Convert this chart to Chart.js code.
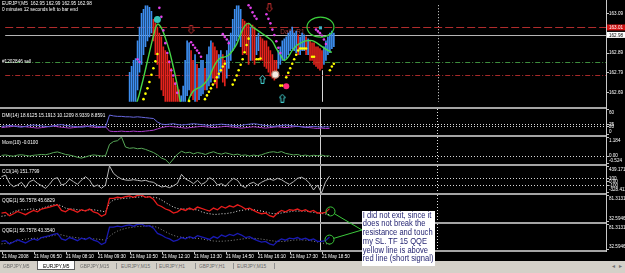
<!DOCTYPE html>
<html><head><meta charset="utf-8"><title>EURJPY,M5</title>
<script src="https://cdn.jsdelivr.net/npm/chart.js@4.4.1/dist/chart.umd.min.js"></script>
<style>
*{box-sizing:border-box}
html,body{margin:0;padding:0;background:#000;}
body{width:625px;height:273px;overflow:hidden;position:relative;font-family:"Liberation Sans",Arial,sans-serif;}
canvas{position:absolute;left:0;display:block;}
.sep{position:absolute;left:0;width:606px;height:2px;background:#a4a4a4;z-index:2;}
.lbl{position:absolute;left:2px;color:#fff;font-size:6.2px;line-height:7px;height:7px;white-space:nowrap;transform-origin:0 50%;transform:scaleX(0.76);z-index:3;}
#axisline{position:absolute;left:606px;top:0;width:1px;height:252px;background:#c8c8c8;z-index:2;}
#tabs{position:absolute;left:0;top:261px;width:625px;height:12px;background:#d4d0c8;z-index:3;}
.tab{position:absolute;top:1px;height:8px;font-size:6.2px;line-height:8px;color:#6a6a6a;white-space:nowrap;transform-origin:0 50%;transform:scaleX(0.78);}
.tab.act{color:#000;}
#acttab{position:absolute;left:37px;top:0;width:38px;height:9px;background:#fff;border:1px solid #606060;border-top:none;}
.tsep{position:absolute;top:2px;width:1px;height:6px;background:#909090;}
.arr{position:absolute;top:1px;font-size:6px;line-height:8px;color:#707070;}
#note{position:absolute;left:362px;top:210.5px;width:72.5px;height:55px;background:#fff;z-index:6;overflow:hidden;}
#note div{font-size:9px;line-height:8.8px;height:8.8px;color:#1e1e6e;white-space:nowrap;transform-origin:0 0;transform:scaleX(0.84);padding-left:1px;}
#ov{z-index:5;top:0;}
</style></head><body>

<div class="lbl" style="top:-0.8px">EURJPY,M5&nbsp; 162.95 162.99 162.95 162.98</div>
<div class="lbl" style="top:4.5px">0 minutes 12 seconds left to bar end</div>
<div class="lbl" style="top:56.5px">#1202846 sell</div>
<div class="lbl" style="top:110.5px">DMI(14) 18.6125 15.1913 10.1209 8.9339 8.8591</div>
<div class="lbl" style="top:138px">Mom(10) -0.0100</div>
<div class="lbl" style="top:166.5px">CCI(14) 151.7799</div>
<div class="lbl" style="top:195.5px">QQE(1) 56.7578 45.6829</div>
<div class="lbl" style="top:225.5px">QQE(1) 56.7578 43.3540</div>

<div class="sep" style="top:107px"></div>
<div class="sep" style="top:135px"></div>
<div class="sep" style="top:164px"></div>
<div class="sep" style="top:193px"></div>
<div class="sep" style="top:222px"></div>
<div class="sep" style="top:250px"></div>
<div id="axisline"></div>

<div id="tabs">
  <div id="acttab"></div>
  <div class="tab" style="left:3px">GBPJPY,M5</div>
  <div class="tab act" style="left:43px">EURJPY,M5</div>
  <div class="tab" style="left:80px">GBPJPY,M15</div>
  <div class="tab" style="left:121px">EURJPY,M15</div>
  <div class="tab" style="left:159px">EURJPY,H1</div>
  <div class="tab" style="left:199px">GBPJPY,H1</div>
  <div class="tab" style="left:237px">EURJPY,M15</div>
  <div class="tsep" style="left:116px"></div>
  <div class="tsep" style="left:156px"></div>
  <div class="tsep" style="left:195px"></div>
  <div class="tsep" style="left:233px"></div>
  <div class="tsep" style="left:274px"></div>
  <div class="arr" style="left:612px">&#9666;</div>
  <div class="arr" style="left:619px">&#9656;</div>
</div>

<div id="note">
  <div>I did not exit, since it</div>
  <div>does not break the</div>
  <div>resistance and touch</div>
  <div>my SL. TF 15 QQE</div>
  <div>yellow line is above</div>
  <div>red line (short signal)</div>
</div>

<script>
// ---------------- DATA ----------------
// main price bars (bar index 62..165), M5 bars
const barStart = 62;
const barHigh = [162.79,162.82,162.85,162.86,162.95,163.02,163.09,163.11,163.13,163.13,163.12,163.10,
 163.06,163.04,163.02,162.99,162.97,162.92,162.90,162.88,162.85,162.81,162.76,162.74,162.72,162.70,
 162.67,162.72,162.85,162.95,162.94,
 162.90,162.85,162.88,162.83,162.81,162.85,162.85,162.81,162.88,162.92,162.95,162.94,162.92,162.90,162.88,162.90,162.88,162.85,162.90,162.95,162.99,163.06,163.11,163.13,163.13,163.11,
 163.06,163.05,163.04,163.04,163.02,163.03,163.02,162.97,162.99,162.97,162.96,162.95,162.95,162.92,162.90,162.88,162.85,162.85,
 162.90,162.92,162.95,162.96,162.97,162.99,163.00,163.02,162.99,163.00,162.98,162.97,162.99,162.98,162.97,162.96,
 162.95,162.94,162.94,162.92,162.92,162.91,162.90,162.92,162.95,162.97,162.99,163.00,162.99];
const barLow = [162.62,162.62,162.62,162.62,162.70,162.79,162.83,162.88,162.92,162.95,162.97,162.99,
 162.95,162.88,162.83,162.76,162.70,162.67,162.63,162.62,162.62,162.62,162.62,162.62,162.62,162.62,
 162.62,162.62,162.62,162.67,162.70,
 162.67,162.65,162.64,162.64,162.65,162.67,162.68,162.70,162.70,162.72,162.74,162.76,162.73,162.71,162.76,162.79,162.74,162.72,162.76,162.81,162.85,162.90,162.92,162.95,162.97,162.92,
 162.88,162.90,162.88,162.83,162.85,162.85,162.83,162.88,162.90,162.85,162.85,162.82,162.81,162.79,162.77,162.76,162.75,162.76,
 162.81,162.83,162.85,162.85,162.86,162.88,162.90,162.91,162.90,162.89,162.88,162.88,162.90,162.90,162.88,162.88,
 162.85,162.85,162.83,162.82,162.81,162.80,162.81,162.83,162.85,162.88,162.89,162.91,162.92];
const barDir = ('uuuuuuuuuuuu'+'dddddddddddddd'+'uuuuu'+'dduduuuduuuddduudduuuuuuuu'+
 'dddd'+'u'+'dd'+'uu'+'ddddddddd'+'uuuuuuuuuu'+'d'+'uuu'+'d'+'u'+'ddddddd'+'uuuuuu').split('');

// green moving average (every 2 bars from index 64)
const maStart = 64, maStep = 2;
const maVal = [162.601,162.647,162.721,162.804,162.891,162.974,163.034,163.016,162.965,162.901,162.818,162.726,
 162.624,162.587,162.656,162.693,162.707,162.716,162.735,162.762,162.808,162.845,162.864,162.868,162.878,162.901,
 162.933,162.984,163.025,163.039,163.020,163.007,162.993,162.979,162.965,162.947,162.910,162.878,162.850,162.868,
 162.901,162.924,162.937,162.947,162.951,162.951,162.942,162.928,162.914,162.901,162.891];

// yellow dots (below price)
const yellowIdx = [69,70,71,72,73,74,75,76, 92,100,101,102,103,104,105,106,107,108,109,110,
 114,115,116,117,118,119,120,121,122, 126,127,128, 138,139,141,142,143,144,145,146,147,148,149,150,151,
 154,155, 163,164,165];
const yellowVal = [162.653,162.681,162.708,162.740,162.777,162.810,162.846,162.883,
 162.644,162.653,162.672,162.690,162.708,162.727,162.745,162.764,162.782,162.800,162.819,162.833,
 162.727,162.750,162.773,162.800,162.828,162.856,162.892,162.929,162.961,
 162.856,162.856,162.860,
 162.722,162.722,162.764,162.787,162.810,162.833,162.856,162.879,162.901,162.911,162.911,162.911,162.911,
 162.869,162.869, 162.800,162.819,162.833];
// magenta dots (above price)
const magIdx = [66,67, 77,78,79,80,81,82,83,84,85,86, 93,94,95,96,97,98, 109,110,111,112,
 122,123,124,125,126, 131,132,133,134,135,136,137,138, 156,157,158,159,160,161];
const magVal = [162.856,162.842, 163.118,163.072,163.003,162.938,162.888,162.842,162.800,162.773,162.731,162.685,
 162.943,162.929,162.915,162.901,162.888,162.869, 162.984,162.970,162.957,162.938,
 163.131,163.118,163.095,163.076,163.062, 163.085,163.062,163.039,163.007,162.980,162.948,162.915,162.888,
 163.007,162.998,162.989,162.975,162.957,162.934];

// signal markers
const upArrowIdx = [129, 139], upArrowVal = [162.754, 162.658];
const downArrowIdx = [93, 132.5], downArrowVal = [163.007, 163.118];
const cyanCircle = [76, 163.058];
const exitCircle = [135.5, 162.778];
const pinkCircle = [141, 162.718];
const cyanSquare = [158.25, 163.016];
const ellipseAt = [158.25, 163.02];

// horizontal price levels: Daily R1, bid, order open, stop
const mainLevels = [163.018, 162.98, 162.842, 162.774];
const mainRange = [162.6394, 163.1314];
const mainTicks = [163.09, 162.89, 162.79, 162.69];
const boxLabels = ['163.01', '162.98'];
const tradeBar = 159, tradeLinePrice = 162.80, futureSep = 217.5;

// indicator windows (every 2 bars from 0)
const subStart = 0, subStep = 2;
const dmiPlus = [20,21,22,21,19,18,20,22,23,22,21,20,19,21,23,24,22,21,20,19,18,19,21,22,20,19,18,
 46,44,43,43,42,42,41,42,41,40,39,38,
 30,25,24,25,26,24,23,24,25,26,25,24,23,22,23,24,
 25,24,23,22,21,22,24,25,26,25,23,22,21,20,
 21,22,23,22,21,20,19,18,19,20,19,18,19,18.6];
const dmiMinus = [17,18,19,20,21,20,19,18,17,16,17,18,20,21,19,18,17,16,17,18,20,21,19,18,17,18,19,
 9,8,8,9,8,8,9,8,8,9,10,11,
 14,17,19,20,19,18,17,16,17,18,19,20,19,18,17,18,
 19,20,19,18,17,16,17,18,19,18,17,16,17,18,
 19,18,17,18,19,20,19,18,17,16,15,16,15,15.2];
const dmiRange = [0, 60], dmiLevels = [25, 20], dmiTicks = [60, 25, 20, 0];

const mom = [0.02,0.05,0.00,-0.03,0.04,0.06,0.02,-0.02,0.03,0.05,0.08,0.06,0.12,0.20,0.24,0.16,0.08,0.04,-0.02,-0.10,-0.15,-0.08,0.00,0.05,0.02,-0.02,0.00,
 0.72,0.90,0.95,1.18,0.55,0.47,0.50,0.44,0.47,0.40,0.30,0.20,0.05,-0.15,-0.25,-0.50,-0.20,
 0.10,0.28,0.18,0.22,0.12,0.20,0.15,0.08,0.18,0.25,0.15,0.10,0.18,0.12,0.05,0.10,0.02,0.05,-0.02,0.04,
 0.00,0.06,0.15,0.22,0.25,0.20,0.26,0.15,0.10,0.05,0.08,0.00,0.04,-0.02,0.03,0.00,0.04,-0.02,-0.01];
const momRange = [-0.524, 1.184], momLevels = [0];
const momTicks = [1.184, 0, -0.524], momTickText = ['1.184', '0.00', '-0.524'];

const cci = [135,183,-53,-148,-101,-25,-176,-7,41,-53,-120,-195,-82,70,108,-101,-63,70,-7,-82,41,135,41,-148,-101,-195,-101,
 439,230,135,70,41,32,50,32,13,32,-7,-25,-101,-157,-138,-176,-120,-53,
 202,70,13,-63,32,-82,-25,108,41,-101,-63,-138,-7,89,32,-120,-176,-63,-25,-101,-25,32,70,32,89,50,-25,-82,-7,
 89,120,60,-50,-243,-100,-328,-20,151.78];
const cciRange = [-328.412, 439.1711], cciLevels = [100, -100];
const cciTicks = [439.1711, 100, 0, -100, -328.412], cciTickText = ['439.1711','100','0.00','-100','-328.412'];

const qqeMain = [48.8,50,44,47.5,51.7,48.8,45.8,50,53.5,51,56,57.7,59.5,61.8,63.6,53.5,51,56,53.5,50,54.7,52.3,56,51,48.8,42.9,46.4,
 75.4,75.4,77.2,76,78.3,79.5,77.2,80.7,81.31,77.2,78.3,73.6,
 63.6,60.6,56,53.5,48.8,51,56,53.5,57.7,54.7,59.5,57,54.7,52.3,57.7,54.7,60.6,57.7,61.8,59.5,63.6,60.6,
 56,57.7,53.5,50,47.5,48.8,44,41.7,48.8,53.5,51,54.7,53.5,56,52.3,54.7,51,53.5,48.8,48.8,50,56.76];
const qqeSlow1 = [42.9,44,47.5,51, 53.5,54.7,54.7,56,56,54.7, 57,59.5,61.8,63.6,64.2, 61.8,57.7,56,56,54.7,53.5,
 53.5,54.7,54.7,53.5,52.3,51, 66.6,72.4,73.6,74.8,75.4,76,77.2,77.2,78.3,78.3,77.2,77.2,
 76,72.4,67.8,63.6,59.5,57, 56,56,56,54.7,54.7, 51,48.8,47.5,46.4,46.4,47.5,47.5,48.8,50,
 52.3,53.5,54.7,54.7,54.7,53.5,52.3,51, 48.8,47.5,47.5,48.8,50,51,52.3,52.3, 52.3,52.3,51,50,49,48,47,45.68];
const qqeSlow2 = [44,45,46,48, 50,52,53,54,54.5,54.5, 55,56.5,58,60,61.5, 61,59,57.5,56.5,55.5,54.5,
 54,54,53.5,53,52,51, 58,64,68,71,73,74.5,75.5,76.5,77,77.5,77.5,77,
 75,71,67,63,60,57.5, 56.5,56,55.5,55,54.5, 53.5,52,50.5,49.5,49,49,49.5,50,51,
 52,53,54,54.5,54.5,54,53,52, 50.5,49.5,48.5,48.5,49,50,51,51.5, 51.5,51,50.5,49,47.5,46,44.5,43.35];
const qqeRange = [32.5946, 81.3131], qqeTicks = [81.3131, 32.5946];
const qqeMarkIdx = [164.5, 164], qqeMarkVal = [51.7, 52.1];

// time axis
const timeStep = 16;
const timeLabels = ['21 May 2008','21 May 06:50','21 May 08:10','21 May 09:30','21 May 10:50','21 May 12:10',
 '21 May 13:30','21 May 14:50','21 May 16:10','21 May 17:30','21 May 18:50'];

// ---------------- DRAWING ----------------
const X_MIN = -0.75, X_MAX = 302.25;
const BLUE = '#3d8ef0', RED = '#e4231d';
const FONT = '"Liberation Sans", Arial, sans-serif';

function txt(ctx, s, x, y, color, size, sx) {
  ctx.save(); ctx.translate(x, y); ctx.scale(sx, 1);
  ctx.font = size + 'px ' + FONT; ctx.fillStyle = color;
  ctx.textBaseline = 'middle'; ctx.textAlign = 'left';
  ctx.fillText(s, 0, 0); ctx.restore();
}
function hline(ctx, y, x0, x1, color, dash) {
  ctx.save(); ctx.strokeStyle = color; ctx.lineWidth = 1; ctx.setLineDash(dash);
  const yy = Math.round(y) + 0.5;
  ctx.beginPath(); ctx.moveTo(x0, yy); ctx.lineTo(x1, yy); ctx.stroke(); ctx.restore();
}
function vline(ctx, x, y0, y1, color, dash) {
  ctx.save(); ctx.strokeStyle = color; ctx.lineWidth = 1; ctx.setLineDash(dash);
  const xx = Math.round(x) + 0.5;
  ctx.beginPath(); ctx.moveTo(xx, y0); ctx.lineTo(xx, y1); ctx.stroke(); ctx.restore();
}
function axisLabels(chart, vals, texts) {
  const {ctx, chartArea: a, scales: {y}} = chart;
  vals.forEach((v, k) => {
    const py = y.getPixelForValue(v);
    ctx.fillStyle = '#c8c8c8';
    ctx.fillRect(607, Math.round(Math.min(Math.max(py, a.top), a.bottom - 1)), 2, 1);
    const ty = Math.min(Math.max(py, a.top + 3), a.bottom - 3.5);
    txt(ctx, texts[k], 609, ty, '#ffffff', 6.2, 0.74);
  });
}
const pts = (vals, start, step) => vals.map((v, k) => ({x: start + k * step, y: v}));
const pairs = (idx, vals) => idx.map((x, k) => ({x, y: vals[k]}));

function lineDs(data, color, width, dash, order) {
  return {type: 'line', data, borderColor: color, borderWidth: width, borderDash: dash || [],
    pointRadius: 0, tension: 0, fill: false, order: order || 3, clip: 0};
}
function dotDs(data, color, r, style, order, border) {
  return {type: 'line', data, showLine: false, pointRadius: r, pointStyle: style || 'circle',
    pointBackgroundColor: color, pointBorderColor: border || color, pointBorderWidth: border ? 1.2 : 0,
    order: order || 2, clip: false};
}
function arrowImg(color, up) {
  const c = document.createElement('canvas'); c.width = 7; c.height = 9;
  const g = c.getContext('2d'); g.strokeStyle = color; g.lineWidth = 1; g.beginPath();
  if (up) { g.moveTo(3.5,0.5); g.lineTo(6.5,4); g.lineTo(5,4); g.lineTo(5,8.5); g.lineTo(2,8.5); g.lineTo(2,4); g.lineTo(0.5,4); }
  else { g.moveTo(3.5,8.5); g.lineTo(6.5,5); g.lineTo(5,5); g.lineTo(5,0.5); g.lineTo(2,0.5); g.lineTo(2,5); g.lineTo(0.5,5); }
  g.closePath(); g.stroke(); return c;
}

function makeChart(top, height, padBottom, range, datasets, hooks, type) {
  const cv = document.createElement('canvas');
  cv.width = 625; cv.height = height; cv.style.top = top + 'px';
  document.body.appendChild(cv);
  return new Chart(cv, {
    type: type || 'line',
    data: {datasets},
    options: {
      responsive: false, maintainAspectRatio: false, animation: false, devicePixelRatio: 1, events: [],
      layout: {padding: {left: 0, right: 19, top: 0, bottom: padBottom || 0}},
      plugins: {legend: {display: false}, tooltip: {enabled: false}},
      scales: {
        x: {type: 'linear', min: X_MIN, max: X_MAX, display: false, offset: false},
        y: {type: 'linear', min: range[0], max: range[1], display: false}
      }
    },
    plugins: [Object.assign({id: 'decor' + top}, hooks)]
  });
}

function panelHooks(levels, ticks, tickText, extra) {
  return {
    beforeDatasetsDraw(chart) {
      const {ctx, chartArea: a, scales: {x, y}} = chart;
      levels.forEach(v => hline(ctx, y.getPixelForValue(v), a.left, a.right, '#d8d8d8', [1, 2]));
      vline(ctx, x.getPixelForValue(futureSep), a.top, a.bottom, '#e0e0e0', [1, 2]);
      vline(ctx, x.getPixelForValue(tradeBar), a.top, a.bottom, '#d0d0d0', []);
    },
    afterDraw(chart) {
      axisLabels(chart, ticks, tickText);
      if (extra) extra(chart);
    }
  };
}

// ---- main price window ----
const barData = barHigh.map((h, k) => ({x: barStart + k, y: [barLow[k], h]}));
const mainChart = makeChart(0, 107, 0, mainRange, [
  dotDs([{x: cyanCircle[0], y: cyanCircle[1]}], '#35c4b8', 3.5, 'circle', 1),
  dotDs(pairs(upArrowIdx, upArrowVal), '#40c8c8', 1, arrowImg('#40c8c8', true), 1),
  dotDs(pairs(downArrowIdx, downArrowVal), '#b02a2a', 1, arrowImg('#b02a2a', false), 1),
  dotDs([{x: exitCircle[0], y: exitCircle[1]}], '#f4ece4', 3.5, 'circle', 1, '#c09a86'),
  dotDs([{x: pinkCircle[0], y: pinkCircle[1]}], '#ff2a7a', 3, 'circle', 1),
  dotDs([{x: cyanSquare[0], y: cyanSquare[1]}], '#40b4c4', 2.2, 'rect', 1),
  dotDs(pairs(yellowIdx, yellowVal), '#ffff00', 1.3, 'circle', 2),
  dotDs(pairs(magIdx, magVal), '#e040e8', 1.3, 'circle', 2),
  Object.assign(lineDs(pts(maVal, maStart, maStep), '#46d646', 1.4, [], 4), {tension: 0.4}),
  {type: 'bar', data: barData, backgroundColor: barDir.map(d => d === 'u' ? BLUE : RED),
   borderWidth: 0, barThickness: 1, grouped: false, clip: 0, order: 10}
], {
  beforeDatasetsDraw(chart) {
    const {ctx, chartArea: a, scales: {x, y}} = chart;
    vline(ctx, x.getPixelForValue(futureSep), a.top, a.bottom, '#e0e0e0', [1, 2]);
    vline(ctx, x.getPixelForValue(tradeBar), y.getPixelForValue(tradeLinePrice), a.bottom, '#d8d8d8', []);
    const styles = [['#b02c2c', [8, 3]], ['#b4b4b4', []], ['#3e8e3e', [5, 2, 1, 2]], ['#a82a2a', [5, 2, 1, 2]]];
    mainLevels.forEach((v, k) => hline(ctx, y.getPixelForValue(v), a.left, a.right, styles[k][0], styles[k][1]));
    txt(ctx, 'Daily R1', x.getPixelForValue(138), y.getPixelForValue(mainLevels[0]) + 4.8, '#a83a3a', 8, 0.8);
  },
  afterDraw(chart) {
    const {ctx, scales: {x, y}} = chart;
    ctx.save(); ctx.strokeStyle = '#3cd03c'; ctx.lineWidth = 1.2;
    ctx.beginPath(); ctx.ellipse(x.getPixelForValue(ellipseAt[0]), y.getPixelForValue(ellipseAt[1]), 13.5, 10, 0, 0, Math.PI * 2);
    ctx.stroke(); ctx.restore();
    axisLabels(chart, mainTicks, mainTicks.map(v => v.toFixed(2)));
    const r = y.getPixelForValue(mainLevels[0]), w = y.getPixelForValue(mainLevels[1]);
    ctx.fillStyle = '#d01212'; ctx.fillRect(607, r - 3, 18, 6);
    txt(ctx, boxLabels[0], 609, r, '#ffffff', 6.2, 0.74);
    ctx.fillStyle = '#ffffff'; ctx.fillRect(607, w - 3, 18, 6);
    txt(ctx, boxLabels[1], 609, w, '#000000', 6.2, 0.74);
  }
}, 'bar');

// ---- DMI ----
makeChart(109, 26, 0, dmiRange, [
  lineDs(pts(dmiPlus, subStart, subStep), '#6868e0', 1),
  lineDs(pts(dmiMinus, subStart, subStep), '#a83ec8', 1)
], panelHooks(dmiLevels, dmiTicks, dmiTicks.map(String)));

// ---- Momentum ----
makeChart(137, 27, 0, momRange, [
  lineDs(pts(mom, subStart, subStep), '#58a858', 1)
], panelHooks(momLevels, momTicks, momTickText));

// ---- CCI ----
makeChart(166, 27, 0, cciRange, [
  lineDs(pts(cci, subStart, subStep), '#b8b8b8', 1)
], panelHooks(cciLevels, cciTicks, cciTickText));

// ---- QQE 1 ----
function ring(chart, k) {
  const {ctx, scales: {x, y}} = chart;
  ctx.save(); ctx.strokeStyle = '#3cc83c'; ctx.lineWidth = 1;
  ctx.beginPath(); ctx.arc(x.getPixelForValue(qqeMarkIdx[k]), y.getPixelForValue(qqeMarkVal[k]), 4.5, 0, Math.PI * 2);
  ctx.stroke(); ctx.restore();
}
const qqe1 = makeChart(195, 27, 0, qqeRange, [
  lineDs(pts(qqeMain, subStart, subStep), '#e81c1c', 1.3, [], 2),
  lineDs(pts(qqeSlow1, subStart, subStep), '#e8e8e8', 1, [1, 2], 3)
], panelHooks([], qqeTicks, qqeTicks.map(v => v.toFixed(4)), c => ring(c, 0)));

// ---- QQE 2 + time axis ----
const qqe2 = makeChart(224, 38, 12, qqeRange, [
  lineDs(pts(qqeMain, subStart, subStep), '#1a1ab4', 1.3, [], 2),
  lineDs(pts(qqeSlow2, subStart, subStep), '#8c8c8c', 1, [1, 2], 3)
], panelHooks([], qqeTicks, qqeTicks.map(v => v.toFixed(4)), c => {
  ring(c, 1);
  const {ctx, chartArea: a, scales: {x}} = c;
  timeLabels.forEach((t, k) => {
    const px = x.getPixelForValue(k * timeStep);
    ctx.fillStyle = '#c8c8c8'; ctx.fillRect(Math.round(px), a.bottom + 2, 1, 2);
    txt(ctx, t, px + 0.5, a.bottom + 6.5, '#ffffff', 6.2, 0.74);
  });
}));

// ---- connectors from rings to the note ----
(function () {
  const ov = document.createElement('canvas');
  ov.id = 'ov'; ov.width = 625; ov.height = 273; document.body.appendChild(ov);
  const g = ov.getContext('2d');
  const note = document.getElementById('note');
  const tx = note.offsetLeft, ty = note.offsetTop + 19;
  [[qqe1, 0, 195], [qqe2, 1, 224]].forEach(([ch, k, top]) => {
    const cx = ch.scales.x.getPixelForValue(qqeMarkIdx[k]);
    const cy = ch.scales.y.getPixelForValue(qqeMarkVal[k]) + top;
    const ang = Math.atan2(ty - cy, tx - cx);
    g.strokeStyle = '#3cc83c'; g.lineWidth = 1;
    g.beginPath(); g.moveTo(cx + 4.5 * Math.cos(ang), cy + 4.5 * Math.sin(ang)); g.lineTo(tx, ty); g.stroke();
  });
})();
</script>
</body></html>
